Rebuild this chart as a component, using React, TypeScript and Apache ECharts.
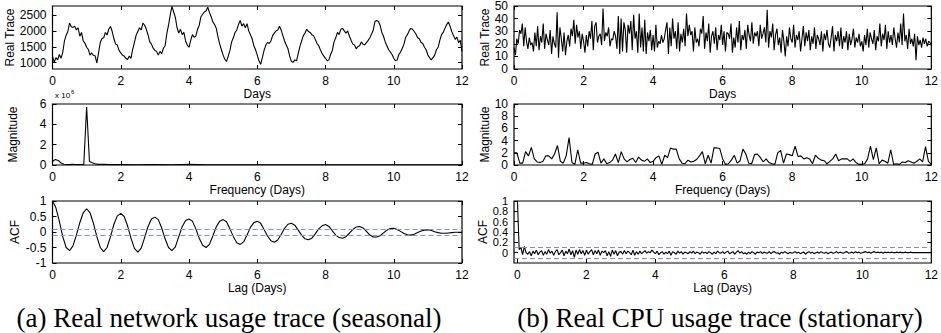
import React, { useEffect, useRef } from "react";
import * as echarts from "echarts";

// ---------------- DATA ----------------
// (a) network trace, sampled every 0.05 day
const NET_STEP = 0.05;
const netTrace = [
  1220, 1010, 1160, 1090, 1260, 1140, 1330, 1690, 1870, 1990, 2260, 2140, 2120, 2160, 2040, 2110, 1840, 1960, 1690, 1620,
  1490, 1420, 1240, 1310, 1230, 1220, 990, 1320, 1640, 1770, 1790, 1960, 1880, 2070, 2150, 1990, 1760, 1590, 1560, 1390,
  1310, 1240, 1210, 1140, 1100, 1210, 1140, 1420, 1640, 1870, 1990, 2110, 2040, 2260, 2190, 2060, 1880, 1660, 1590, 1460,
  1390, 1360, 1240, 1360, 1290, 1460, 1540, 1920, 2190, 2520, 2790, 2610, 2440, 2110, 1940, 2060, 1890, 1960, 1690, 1560,
  1490, 1710, 1890, 1810, 1840, 2060, 2190, 2460, 2540, 2610, 2640, 2760, 2590, 2460, 2290, 2210, 2090, 1810, 1590, 1410,
  1240, 1110, 1040, 1210, 1390, 1660, 1790, 1960, 2040, 2210, 2340, 2160, 2240, 2110, 2240, 2010, 1890, 1760, 1540, 1410,
  1240, 1060, 950, 1160, 1390, 1560, 1640, 1610, 1690, 1860, 1940, 2010, 2040, 2160, 2040, 1860, 1690, 1560, 1440, 1210,
  1040, 1010, 1090, 1060, 1290, 1510, 1690, 1860, 1940, 2060, 1990, 1960, 1890, 1860, 1740, 1610, 1540, 1410, 1290, 1210,
  1140, 1060, 1090, 1260, 1390, 1660, 1790, 1960, 1890, 2060, 2090, 2010, 1940, 2010, 1840, 1710, 1590, 1560, 1440, 1510,
  1540, 1660, 1590, 1560, 1640, 1710, 1790, 1910, 2040, 2310, 2340, 2310, 2190, 1960, 1840, 1660, 1540, 1410, 1340, 1260,
  1140, 1060, 1090, 1260, 1340, 1460, 1590, 1810, 1890, 2010, 2090, 2060, 1990, 1910, 1790, 1760, 1640, 1610, 1490, 1410,
  1240, 1160, 1090, 1160, 1240, 1410, 1490, 1710, 1890, 1960, 2090, 2210, 2290, 2160, 1990, 1860, 1740, 1810, 1640, 1710,
  1360,
];

// (b) CPU trace, sampled every 0.04 day
const CPU_STEP = 0.04;
const cpuTrace = [
  17, 11, 24, 20, 31, 28, 36, 18, 33, 22, 16, 25, 19, 21, 14, 29, 18, 34, 15, 26, 21, 36, 16, 28, 23,
  19, 31, 12, 26, 20, 17, 45, 9, 33, 24, 14, 29, 11, 22, 27, 18, 32, 26, 39, 20, 35, 25, 30, 16, 28,
  22, 13, 27, 18, 30, 24, 38, 15, 34, 37, 21, 26, 28, 19, 48, 22, 29, 26, 33, 18, 24, 23, 30, 26, 16,
  42, 12, 40, 14, 37, 31, 13, 35, 28, 38, 15, 43, 24, 30, 13, 44, 17, 33, 14, 39, 12, 29, 22, 31, 15,
  27, 14, 35, 17, 22, 20, 27, 21, 24, 31, 37, 12, 33, 18, 40, 24, 30, 16, 37, 14, 28, 21, 32, 18, 44,
  26, 35, 27, 30, 14, 33, 21, 24, 18, 32, 28, 42, 16, 29, 22, 36, 13, 26, 30, 20, 33, 15, 27, 23, 35,
  19, 30, 14, 29, 28, 24, 36, 13, 25, 17, 33, 21, 38, 15, 27, 23, 31, 16, 35, 27, 22, 37, 20, 29, 26,
  30, 18, 35, 24, 28, 33, 21, 47, 17, 30, 25, 36, 15, 27, 32, 19, 25, 13, 31, 22, 10, 26, 18, 33, 24,
  21, 35, 17, 27, 23, 30, 14, 24, 34, 18, 29, 22, 31, 15, 26, 20, 33, 16, 27, 24, 19, 30, 14, 28, 23,
  31, 20, 17, 25, 34, 14, 27, 22, 30, 18, 33, 16, 26, 21, 30, 15, 28, 19, 24, 32, 17, 25, 21, 28, 18,
  22, 14, 27, 19, 32, 17, 29, 24, 20, 31, 15, 26, 22, 36, 18, 28, 23, 35, 16, 30, 21, 27, 19, 33, 24,
  17, 29, 21, 36, 19, 44, 22, 27, 16, 32, 20, 24, 18, 28, 7, 26, 19, 23, 17, 25, 20, 24, 18, 22, 21,
  19,
];

// (a) spectrum magnitude (x 10^6)
const netMagFreq = [
  0, 0.083, 0.167, 0.25, 0.333, 0.417, 0.5, 0.583, 0.667, 0.75, 0.833, 0.917,
  1.0, 1.083, 1.167, 1.25, 1.333, 1.5, 1.667, 2, 2.5, 3, 3.5, 4, 4.5, 5, 6, 7, 8, 9, 10, 11, 12,
];
const netMagVal = [
  0.35, 0.55, 0.45, 0.2, 0.08, 0.05, 0.04, 0.06, 0.05, 0.04, 0.05, 0.05,
  5.7, 0.35, 0.22, 0.12, 0.06, 0.08, 0.04, 0.05, 0.03, 0.04, 0.03, 0.06, 0.03, 0.03, 0.03, 0.02, 0.03, 0.02, 0.02, 0.02, 0.02,
];

// (b) spectrum magnitude, every 1/12 day
const CPU_MAG_STEP = 1 / 12;
const cpuMag = [
  2.0, 2.0, 0.3, 0.3, 2.2, 1.5, 2.9, 1.0, 0.5, 0.4, 0.6, 1.5,
  1.5, 1.0, 1.8, 3.2, 0.6, 0.3, 1.5, 4.5, 0.4, 0.1, 2.5, 0.3,
  0.3, 0.4, 0.2, 0.1, 1.8, 2.1, 0.3, 1.0, 0.2, 0.4, 0.8, 1.8,
  0.4, 2.2, 1.0, 0.5, 0.9, 1.1, 0.4, 1.3, 0.8, 0.6, 1.0, 0.4,
  0.6, 1.2, 1.5, 0.1, 1.6, 1.2, 2.8, 2.6, 2.6, 1.0, 0.3, 0.2,
  0.8, 0.5, 0.6, 0.9, 1.5, 2.2, 0.2, 1.6, 0.3, 2.8, 2.8, 2.7,
  1.0, 0.1, 0.2, 0.8, 1.6, 0.3, 0.7, 2.6, 1.8, 0.3, 0.2, 1.7,
  1.8, 1.2, 0.5, 1.0, 0.4, 0.2, 0.1, 2.0, 2.4, 0.3, 1.8, 1.7,
  1.5, 3.1, 1.4, 1.5, 1.0, 1.2, 1.0, 0.2, 1.6, 1.1, 0.8, 0.7,
  0.2, 0.6, 1.0, 1.8, 0.7, 1.0, 1.0, 1.0, 0.6, 1.0, 0.4, 0.1,
  0.1, 0.2, 1.0, 3.1, 0.9, 2.8, 0.2, 0.8, 0.6, 0.3, 2.5, 0.1,
  0.2, 0.1, 0.5, 0.4, 0.7, 0.5, 0.3, 0.6, 1.0, 0.5, 3.0, 0.6,
  0.1,
];

// (a) autocorrelation, every 0.1 day
const NET_ACF_STEP = 0.1;
const netAcf = [
  1.0, 0.78, 0.35, -0.15, -0.5, -0.6, -0.45, -0.1, 0.3, 0.62,
  0.75, 0.62, 0.28, -0.15, -0.5, -0.63, -0.5, -0.15, 0.25, 0.52,
  0.6, 0.5, 0.2, -0.2, -0.53, -0.65, -0.52, -0.18, 0.18, 0.42,
  0.48, 0.4, 0.13, -0.22, -0.5, -0.6, -0.48, -0.15, 0.17, 0.37,
  0.42, 0.35, 0.1, -0.2, -0.43, -0.5, -0.4, -0.12, 0.17, 0.35,
  0.4, 0.33, 0.1, -0.15, -0.35, -0.4, -0.32, -0.1, 0.15, 0.3,
  0.35, 0.28, 0.08, -0.13, -0.28, -0.33, -0.26, -0.08, 0.12, 0.25,
  0.28, 0.22, 0.06, -0.1, -0.22, -0.25, -0.2, -0.06, 0.1, 0.2,
  0.24, 0.18, 0.04, -0.1, -0.18, -0.2, -0.15, -0.04, 0.08, 0.16,
  0.18, 0.13, 0.02, -0.1, -0.16, -0.16, -0.12, -0.03, 0.06, 0.11,
  0.12, 0.08, 0.02, -0.05, -0.09, -0.1, -0.07, -0.02, 0.03, 0.06,
  0.07, 0.05, 0.01, -0.02, -0.04, -0.04, -0.03, -0.02, -0.01, -0.01,
  -0.01,
];

// (b) autocorrelation, every 0.05 day
const CPU_ACF_STEP = 0.05;
const cpuAcf = [
  1.0, 0.06, 0.1, -0.04, 0.12, 0.0, -0.03, 0.02, -0.06, 0.03, -0.02, 0.05, -0.04, 0.01, 0.04, -0.05, 0.02, -0.03, 0.06, -0.01,
  0.03, -0.05, 0.02, 0.06, -0.04, 0.0, 0.05, -0.06, 0.03, -0.02, 0.07, -0.04, 0.04, -0.09, 0.05, -0.03, 0.06, -0.02, 0.04, -0.05,
  0.05, -0.03, 0.02, 0.06, -0.04, 0.04, -0.02, 0.05, -0.05, 0.03, 0.0, 0.04, -0.06, 0.02, -0.07, 0.05, -0.03, 0.04, -0.06, 0.01,
  0.02, -0.03, 0.04, -0.02, 0.03, 0.0, -0.04, 0.05, -0.05, 0.02, -0.03, 0.03, -0.02, 0.01, 0.04, -0.01, 0.02, 0.0, 0.05, 0.01,
  -0.02, 0.03, -0.04, 0.0, 0.02, -0.03, 0.01, -0.02, 0.03, -0.05, 0.02, 0.0, -0.03, 0.03, -0.01, 0.02, -0.03, 0.01, 0.0, -0.02,
  0.02, -0.01, 0.03, -0.02, 0.01, 0.0, -0.03, 0.02, -0.01, 0.01, -0.02, 0.02, 0.0, -0.03, 0.01, -0.02, 0.03, 0.0, -0.01, 0.02,
  -0.02, 0.01, 0.03, -0.02, 0.0, 0.02, -0.03, 0.01, 0.04, -0.01, 0.02, -0.02, 0.0, -0.03, 0.01, -0.02, 0.02, 0.0, -0.03, 0.01,
  0.0, 0.02, -0.02, 0.01, 0.0, -0.01, 0.02, -0.02, 0.01, 0.02, -0.01, 0.0, -0.03, 0.01, -0.01, 0.02, 0.0, -0.02, 0.01, -0.01,
  0.0, 0.02, -0.01, 0.01, -0.02, 0.0, 0.01, -0.03, 0.0, 0.02, -0.01, 0.01, -0.02, 0.0, 0.01, -0.01, 0.02, 0.0, -0.01, 0.01,
  -0.02, 0.0, 0.01, -0.01, 0.0, 0.02, -0.01, 0.01, 0.0, -0.01, 0.01, 0.02, -0.01, 0.0, 0.01, -0.01, 0.02, 0.0, 0.01, -0.01,
  0.0, 0.01, 0.02, 0.0, 0.01, -0.01, 0.01, 0.02, 0.0, 0.01, 0.0, 0.01, -0.01, 0.01, 0.0, 0.01, 0.0, 0.01, 0.0, 0.0,
  0.01, 0.0, 0.01, 0.0, 0.0, 0.01, 0.0, 0.0, 0.01, 0.0, 0.0, 0.0, 0.0, 0.0, 0.0, 0.0, 0.0, 0.0, 0.0, 0.0,
  0.0,
];

const acfBounds = [0.1, -0.1];

const dayTicks = [0, 2, 4, 6, 8, 10, 12];
const netTraceTicks = [1000, 1500, 2000, 2500];
const cpuTraceTicks = [0, 10, 20, 30, 40, 50];
const netMagTicks = [0, 2, 4, 6];
const cpuMagTicks = [0, 2, 4, 6, 8, 10];
const netAcfTicks = [-1, -0.5, 0, 0.5, 1];
const cpuAcfTicks = [0, 0.2, 0.4, 0.6, 0.8, 1];

const captions = [
  "(a) Real network usage trace (seasonal)",
  "(b) Real CPU usage trace (stationary)",
];

// ---------------- LAYOUT ----------------
const SANS = "'Liberation Sans', Arial, Helvetica, sans-serif";
const SERIF = "'Liberation Serif', 'Times New Roman', serif";
const FS = 12;

const COLS = [
  { left: 52.5, width: 409.5 },
  { left: 514, width: 418 },
];
const ROWS = [
  { top: 6, height: 63 },
  { top: 104, height: 61 },
  { top: 201, height: 62 },
];

type PanelSpec = {
  col: number;
  row: number;
  xMin: number;
  xMax: number;
  xName: string;
  yMin: number;
  yMax: number;
  yTicks: number[];
  ySplitLabels?: boolean;
  yName: string;
  yNameGap: number;
  yFont: number;
  data: number[][];
  bounds?: number[];
};

const pairs = (vals: number[], step: number) => vals.map((v, i) => [i * step, v]);

const panels: PanelSpec[] = [
  { col: 0, row: 0, xMin: 0, xMax: 12, xName: "Days", yMin: 800, yMax: 2800, yTicks: netTraceTicks, yName: "Real Trace", yNameGap: 36, yFont: FS, data: pairs(netTrace, NET_STEP) },
  { col: 1, row: 0, xMin: 0, xMax: 12, xName: "Days", yMin: 0, yMax: 50, yTicks: cpuTraceTicks, yName: "Real Trace", yNameGap: 19, yFont: FS, data: pairs(cpuTrace, CPU_STEP) },
  { col: 0, row: 1, xMin: 0, xMax: 12, xName: "Frequency (Days)", yMin: 0, yMax: 6, yTicks: netMagTicks, yName: "Magnitude", yNameGap: 34, yFont: FS, data: netMagFreq.map((f, i) => [f, netMagVal[i]]) },
  { col: 1, row: 1, xMin: 0, xMax: 12, xName: "Frequency (Days)", yMin: 0, yMax: 10, yTicks: cpuMagTicks, yName: "Magnitude", yNameGap: 18, yFont: FS, data: pairs(cpuMag, CPU_MAG_STEP) },
  { col: 0, row: 2, xMin: 0, xMax: 12, xName: "Lag (Days)", yMin: -1, yMax: 1, yTicks: netAcfTicks, yName: "ACF", yNameGap: 32, yFont: FS, data: pairs(netAcf, NET_ACF_STEP), bounds: acfBounds },
  { col: 1, row: 2, xMin: -0.1, xMax: 12, xName: "Lag (Days)", yMin: -0.2, yMax: 1, yTicks: cpuAcfTicks, ySplitLabels: true, yName: "ACF", yNameGap: 24, yFont: 11, data: pairs(cpuAcf, CPU_ACF_STEP), bounds: acfBounds },
];

const fmt = (v: number) => String(Math.round(v * 1000) / 1000);

function buildOption() {
  const grid: any[] = [];
  const xAxis: any[] = [];
  const yAxis: any[] = [];
  const extraY: any[] = [];
  const series: any[] = [];
  const tickStyle = { color: "#000", width: 1 };

  panels.forEach((p, g) => {
    grid.push({
      left: COLS[p.col].left,
      width: COLS[p.col].width,
      top: ROWS[p.row].top,
      height: ROWS[p.row].height,
      show: true,
      borderColor: "#000",
      borderWidth: 1.2,
      containLabel: false,
    });
    const xCommon = {
      type: "value",
      gridIndex: g,
      min: p.xMin,
      max: p.xMax,
      axisLine: { show: false, onZero: false },
      splitLine: { show: false },
      axisTick: { show: true, inside: true, length: 4, customValues: dayTicks, lineStyle: tickStyle },
    };
    xAxis.push({
      ...xCommon,
      position: "bottom",
      name: p.xName,
      nameLocation: "middle",
      nameGap: 15,
      nameTextStyle: { fontSize: FS, color: "#000", fontFamily: SANS },
      axisLabel: {
        show: true, customValues: dayTicks, margin: 6, fontSize: FS, color: "#000", fontFamily: SANS,
        formatter: fmt, showMinLabel: true, showMaxLabel: true, hideOverlap: false,
      },
    });
    xAxis.push({ ...xCommon, position: "top", axisLabel: { show: false } });

    const yCommon: any = {
      type: "value",
      gridIndex: g,
      min: p.yMin,
      max: p.yMax,
      axisLine: { show: false, onZero: false },
      splitLine: { show: false },
      axisTick: { show: true, inside: true, length: 4, customValues: p.yTicks, lineStyle: tickStyle },
    };
    const labelBase = {
      show: true, margin: 6, fontSize: p.yFont, color: "#000", fontFamily: SANS,
      formatter: fmt, showMinLabel: true, showMaxLabel: true, hideOverlap: false,
    };
    const mainLabels = p.ySplitLabels ? p.yTicks.filter((_, i) => i % 2 === 0) : p.yTicks;
    yAxis.push({
      ...yCommon,
      position: "left",
      name: p.yName,
      nameLocation: "middle",
      nameRotate: 90,
      nameGap: p.yNameGap,
      nameTextStyle: { fontSize: FS, color: "#000", fontFamily: SANS },
      axisLabel: { ...labelBase, customValues: mainLabels },
    });
    yAxis.push({ ...yCommon, position: "right", axisLabel: { show: false } });
    if (p.ySplitLabels) {
      extraY.push({
        ...yCommon,
        position: "left",
        axisTick: { show: false },
        axisLabel: { ...labelBase, customValues: p.yTicks.filter((_, i) => i % 2 === 1) },
      });
    }

    const s: any = {
      type: "line",
      xAxisIndex: 2 * g,
      yAxisIndex: 2 * g,
      data: p.data,
      symbol: "none",
      showSymbol: false,
      lineStyle: { color: "#000", width: 1.1 },
      silent: true,
      z: 3,
    };
    if (p.bounds) {
      s.markLine = {
        silent: true,
        symbol: "none",
        label: { show: false },
        lineStyle: { color: "#8585ff", type: [5, 3], width: 1.1, opacity: 1 },
        emphasis: { disabled: true },
        data: p.bounds.map((b) => ({ yAxis: b })),
      };
    }
    series.push(s);
  });

  const graphic: any[] = [
    { type: "text", x: 55, y: 95, style: { text: "x 10", fontSize: 8, fontFamily: SANS, fill: "#000", align: "left", verticalAlign: "middle" } },
    { type: "text", x: 71, y: 92, style: { text: "6", fontSize: 6, fontFamily: SANS, fill: "#000", align: "left", verticalAlign: "middle" } },
    { type: "text", x: 229, y: 318, style: { text: captions[0], fontSize: 27, fontFamily: SERIF, fill: "#000", align: "center", verticalAlign: "middle" } },
    { type: "text", x: 720, y: 318, style: { text: captions[1], fontSize: 27, fontFamily: SERIF, fill: "#000", align: "center", verticalAlign: "middle" } },
  ];

  return { animation: false, backgroundColor: "#fff", grid, xAxis, yAxis: [...yAxis, ...extraY], series, graphic };
}

export default function App() {
  const ref = useRef<HTMLDivElement>(null);
  useEffect(() => {
    document.body.style.margin = "0";
    if (!ref.current) return;
    const chart = echarts.init(ref.current, undefined, { renderer: "svg" });
    chart.setOption(buildOption());
    return () => chart.dispose();
  }, []);
  return <div ref={ref} style={{ width: 941, height: 333 }} />;
}
